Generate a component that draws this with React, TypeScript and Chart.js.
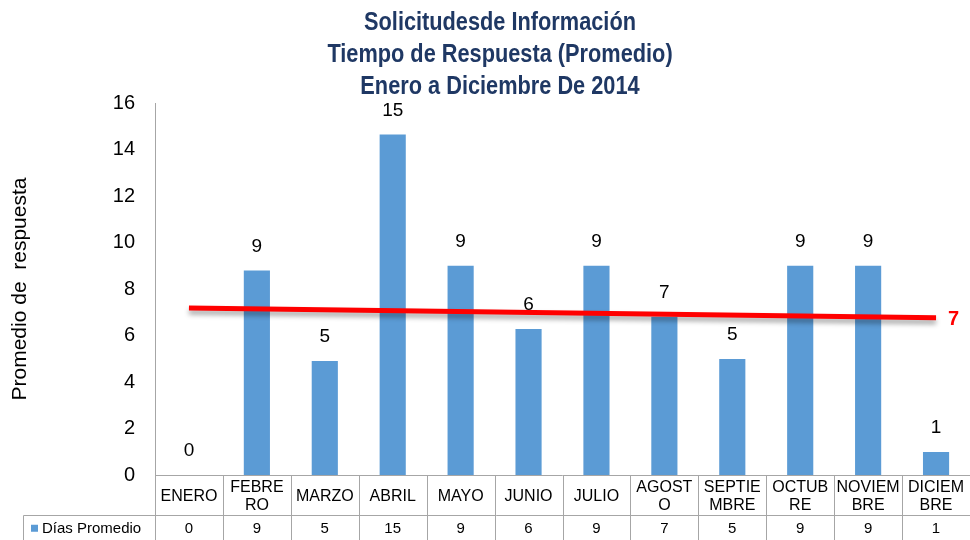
import React, { useEffect, useRef } from "react";
import { Chart, registerables } from "chart.js";

Chart.register(...registerables);

const categories = ["ENERO", "FEBRERO", "MARZO", "ABRIL", "MAYO", "JUNIO", "JULIO", "AGOSTO", "SEPTIEMBRE", "OCTUBRE", "NOVIEMBRE", "DICIEMBRE"];
const tableLabels = [["ENERO"], ["FEBRE", "RO"], ["MARZO"], ["ABRIL"], ["MAYO"], ["JUNIO"], ["JULIO"], ["AGOST", "O"], ["SEPTIE", "MBRE"], ["OCTUB", "RE"], ["NOVIEM", "BRE"], ["DICIEM", "BRE"]];
const diasPromedio = [0, 8.8, 4.9, 14.65, 9.0, 6.28, 9.0, 6.81, 4.99, 9.0, 9.0, 0.99];
const trendStart = 7.18;
const trendEnd = 6.76;
const trendLabel = "7";
const seriesName = "Días Promedio";
const titleLines = ["Solicitudesde Información", "Tiempo de Respuesta (Promedio)", "Enero a Diciembre De 2014"];
const yAxisTitle = "Promedio de  respuesta";
const yMax = 16;
const yStep = 2;

const FONT = "'Liberation Sans', Arial, sans-serif";
const BAR_COLOR = "#5B9BD5";
const GRID = "#a6a6a6";

const titlePlugin = {
  id: "titleLines",
  afterDraw(chart: any) {
    const ctx = chart.ctx;
    ctx.save();
    ctx.fillStyle = "#1F3864";
    ctx.font = `bold 25px ${FONT}`;
    ctx.textAlign = "center";
    ctx.textBaseline = "middle";
    ctx.translate(500, 0);
    ctx.scale(0.87, 1);
    titleLines.forEach((t, i) => ctx.fillText(t, 0, 23 + i * 32));
    ctx.restore();
  },
};

const shadowPlugin = {
  id: "lineShadow",
  beforeDatasetDraw(chart: any, args: any) {
    if (args.index === 1) {
      const ctx = chart.ctx;
      ctx.save();
      ctx.shadowColor = "rgba(0,0,0,0.35)";
      ctx.shadowBlur = 5;
      ctx.shadowOffsetY = 4;
    }
  },
  afterDatasetDraw(chart: any, args: any) {
    const ctx = chart.ctx;
    if (args.index === 1) {
      ctx.restore();
      const meta = chart.getDatasetMeta(1);
      const last = meta.data[meta.data.length - 1];
      ctx.save();
      ctx.fillStyle = "#FF0000";
      ctx.font = `bold 20px ${FONT}`;
      ctx.textAlign = "left";
      ctx.textBaseline = "middle";
      ctx.fillText(trendLabel, last.x + 12, last.y + 2);
      ctx.restore();
    }
    if (args.index === 0) {
      const meta = chart.getDatasetMeta(0);
      ctx.save();
      ctx.fillStyle = "#000";
      ctx.font = `19px ${FONT}`;
      ctx.textAlign = "center";
      ctx.textBaseline = "middle";
      meta.data.forEach((bar: any, i: number) => {
        ctx.fillText(String(Math.round(diasPromedio[i])), bar.x, bar.y - 24);
      });
      ctx.restore();
    }
  },
};

const tablePlugin = {
  id: "dataTable",
  afterDraw(chart: any) {
    const ctx = chart.ctx;
    const xs = chart.scales.x;
    const area = chart.chartArea;
    const n = categories.length;
    const centers = categories.map((_, i) => xs.getPixelForValue(i));
    const half = (centers[1] - centers[0]) / 2;
    const edges = [centers[0] - half, ...centers.map((c) => c + half)];
    const top = Math.round(area.bottom) + 0.5;
    const mid = 515.5;
    const bottom = chart.height;
    const legendLeft = 23.5;

    ctx.save();
    ctx.strokeStyle = GRID;
    ctx.lineWidth = 1;
    ctx.beginPath();
    ctx.moveTo(edges[0], top);
    ctx.lineTo(edges[n], top);
    ctx.moveTo(legendLeft, mid);
    ctx.lineTo(edges[n], mid);
    ctx.moveTo(legendLeft, mid);
    ctx.lineTo(legendLeft, bottom);
    edges.forEach((e) => {
      const x = Math.round(e) + 0.5;
      ctx.moveTo(x, top);
      ctx.lineTo(x, bottom);
    });
    ctx.stroke();

    ctx.fillStyle = "#000";
    ctx.font = `16px ${FONT}`;
    ctx.textAlign = "center";
    ctx.textBaseline = "middle";
    const rowMid = (top + mid) / 2;
    tableLabels.forEach((lines, i) => {
      if (lines.length === 1) {
        ctx.fillText(lines[0], centers[i], rowMid + 1);
      } else {
        ctx.fillText(lines[0], centers[i], rowMid - 8);
        ctx.fillText(lines[1], centers[i], rowMid + 10);
      }
    });
    ctx.font = `15px ${FONT}`;
    const valMid = (mid + bottom) / 2 + 1;
    diasPromedio.forEach((v, i) => {
      ctx.fillText(String(Math.round(v)), centers[i], valMid);
    });
    ctx.fillStyle = BAR_COLOR;
    ctx.fillRect(31, valMid - 4, 7, 7);
    ctx.fillStyle = "#000";
    ctx.textAlign = "left";
    ctx.fillText(seriesName, 42, valMid);
    ctx.restore();
  },
};

export default function App() {
  const ref = useRef<HTMLCanvasElement>(null);
  useEffect(() => {
    document.body.style.margin = "0";
    const canvas = ref.current;
    if (!canvas) return;
    const chart = new Chart(canvas, {
      type: "bar",
      data: {
        labels: categories,
        datasets: [
          {
            type: "bar",
            label: seriesName,
            data: diasPromedio,
            backgroundColor: BAR_COLOR,
            categoryPercentage: 1,
            barPercentage: 0.385,
            order: 1,
          },
          {
            type: "line",
            label: "Tendencia",
            data: [
              { x: categories[0], y: trendStart },
              { x: categories[categories.length - 1], y: trendEnd },
            ] as any,
            borderColor: "#FF0000",
            borderWidth: 5,
            pointRadius: 0,
            fill: false,
            order: 0,
          },
        ],
      },
      options: {
        responsive: false,
        animation: false,
        layout: { padding: { top: 103, bottom: 65, left: 0, right: 0 } },
        plugins: {
          legend: { display: false },
          title: { display: false },
          tooltip: { enabled: false },
        },
        scales: {
          x: { display: false, offset: true },
          y: {
            min: 0,
            max: yMax,
            afterFit: (scale: any) => {
              scale.width = 155;
            },
            ticks: {
              stepSize: yStep,
              padding: 20,
              color: "#000",
              font: { family: FONT, size: 20 },
            },
            grid: { display: false, drawTicks: false },
            border: { display: true, color: GRID, width: 1 },
            title: {
              display: true,
              text: yAxisTitle,
              color: "#000",
              font: { family: FONT, size: 21 },
              padding: { top: 8, bottom: 0 },
            },
          },
        },
      },
      plugins: [titlePlugin, shadowPlugin, tablePlugin],
    });
    return () => chart.destroy();
  }, []);
  return (
    <div style={{ width: 970, height: 540 }}>
      <canvas ref={ref} width={970} height={540} style={{ display: "block" }} />
    </div>
  );
}
